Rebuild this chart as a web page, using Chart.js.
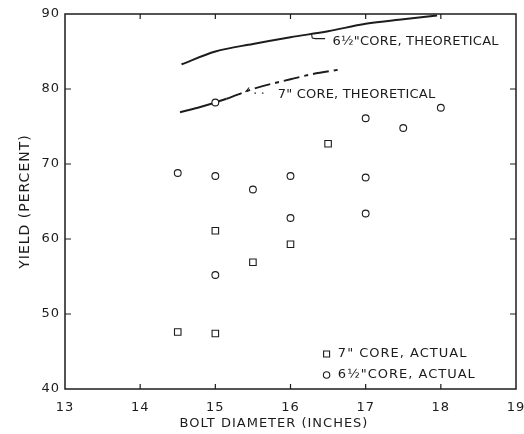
<!DOCTYPE html>
<html><head><meta charset="utf-8">
<script src="https://cdn.jsdelivr.net/npm/chart.js@4/dist/chart.umd.min.js"></script>
<style>html,body{margin:0;padding:0;background:#fff}</style>
</head><body>
<canvas id="c" width="524" height="434"></canvas>
<script>
const xTicks = [13, 14, 15, 16, 17, 18, 19];
const yTicks = [40, 50, 60, 70, 80, 90];
const core7ActualX = [14.5, 15, 15, 15.5, 16, 16.5];
const core7ActualY = [47.6, 47.4, 61.1, 56.9, 59.3, 72.7];
const core65ActualX = [14.5, 15, 15, 15, 15.5, 16, 16, 17, 17, 17, 17.5, 18];
const core65ActualY = [68.8, 78.2, 68.4, 55.2, 66.6, 68.4, 62.8, 76.1, 68.2, 63.4, 74.8, 77.5];
const core65TheoX = [14.55, 15, 15.5, 16, 16.5, 17, 17.5, 17.95];
const core65TheoY = [83.3, 85.0, 86.0, 86.9, 87.7, 88.7, 89.3, 89.8];
const core7TheoX = [14.53, 14.8, 15, 15.15, 15.5, 16, 16.3, 16.66];
const core7TheoY = [76.9, 77.6, 78.2, 78.7, 80.0, 81.3, 82.0, 82.6];
const seriesLabels = ['7" CORE, ACTUAL', '6½"CORE, ACTUAL', '6½"CORE, THEORETICAL', '7" CORE, THEORETICAL'];
const xTitle = 'BOLT DIAMETER (INCHES)';
const yTitle = 'YIELD (PERCENT)';

const pts = (xs, ys) => xs.map((v, i) => ({x: v, y: ys[i]}));
const INK = '#1c1c1c';
const FONT = '"DejaVu Sans", "Liberation Sans", sans-serif';

// annotation anchors (data space) for the curve labels
const labelAnchors = [
  {text: seriesLabels[2], x: 16.56, y: 86.27},
  {text: seriesLabels[3], x: 15.83, y: 79.2}
];

const framePlugin = {
  id: 'frame',
  beforeDraw(chart) {
    chart.ctx.letterSpacing = '1px';
  },
  beforeDatasetsDraw(chart) {
    const {ctx, scales: {x, y}} = chart;
    ctx.letterSpacing = '0px';
    ctx.save();
    ctx.strokeStyle = INK;
    ctx.lineWidth = 1.5;
    const l = x.getPixelForValue(xTicks[0]), r = x.getPixelForValue(xTicks[xTicks.length - 1]);
    const t = y.getPixelForValue(yTicks[yTicks.length - 1]), b = y.getPixelForValue(yTicks[0]);
    ctx.strokeRect(l, t, r - l, b - t);
    ctx.lineWidth = 1.2;
    ctx.beginPath();
    xTicks.slice(1, -1).forEach(v => {
      const p = x.getPixelForValue(v);
      ctx.moveTo(p, b); ctx.lineTo(p, b - 5);
      ctx.moveTo(p, t); ctx.lineTo(p, t + 5);
    });
    yTicks.slice(1, -1).forEach(v => {
      const p = y.getPixelForValue(v);
      ctx.moveTo(l, p); ctx.lineTo(l + 6, p);
      ctx.moveTo(r, p); ctx.lineTo(r - 6, p);
    });
    ctx.stroke();
    ctx.restore();
  },
  afterDatasetsDraw(chart) {
    const {ctx, scales: {x, y}} = chart;
    ctx.save();
    ctx.fillStyle = INK;
    ctx.font = '13px ' + FONT;
    ctx.textBaseline = 'middle';
    ctx.textAlign = 'left';
    ctx.letterSpacing = '0.2px';
    labelAnchors.forEach(l => ctx.fillText(l.text, x.getPixelForValue(l.x), y.getPixelForValue(l.y)));
    // legend for the measured series
    ctx.letterSpacing = '1px';
    const lx = x.getPixelForValue(16.48), tx = x.getPixelForValue(16.63);
    const rows = [{ds: 0, y: 44.67}, {ds: 1, y: 41.87}];
    rows.forEach(r => {
      const ds = chart.data.datasets[r.ds];
      const py = y.getPixelForValue(r.y);
      ctx.strokeStyle = INK; ctx.lineWidth = 1.1; ctx.fillStyle = '#fff';
      ctx.beginPath();
      if (ds.pointStyle === 'rect') { ctx.rect(lx - 3, py - 3, 6, 6); }
      else { ctx.arc(lx, py, 3.2, 0, Math.PI * 2); }
      ctx.fill(); ctx.stroke();
      ctx.fillStyle = INK;
      ctx.fillText(ds.label, tx, py);
    });
    // x axis title
    ctx.letterSpacing = '1px';
    ctx.textAlign = 'center';
    ctx.fillText(xTitle, x.getPixelForValue(15.78), 424);
    ctx.restore();
    ctx.letterSpacing = '0px';
  }
};

new Chart(document.getElementById('c'), {
  type: 'scatter',
  data: {
    datasets: [
      {label: seriesLabels[0], data: pts(core7ActualX, core7ActualY), pointStyle: 'rect', pointRadius: 4.6,
       borderColor: INK, backgroundColor: '#fff', borderWidth: 1.1},
      {label: seriesLabels[1], data: pts(core65ActualX, core65ActualY), pointStyle: 'circle', pointRadius: 3.4,
       borderColor: INK, backgroundColor: '#fff', borderWidth: 1.1},
      {label: seriesLabels[2], data: pts(core65TheoX, core65TheoY), showLine: true, pointRadius: 0,
       borderColor: INK, borderWidth: 1.9, cubicInterpolationMode: 'monotone'},
      {label: seriesLabels[3], data: pts(core7TheoX, core7TheoY), showLine: true, pointRadius: 0,
       borderColor: INK, borderWidth: 1.9, cubicInterpolationMode: 'monotone',
       segment: {borderDash: c => c.p0.parsed.x >= 15.15 ? [16, 5, 4, 5] : undefined}},
      // leader marks
      {label: 'lead1', data: [{x: 16.28, y: 87.3}, {x: 16.29, y: 86.8}, {x: 16.33, y: 86.72}, {x: 16.46, y: 86.72}],
       showLine: true, pointRadius: 0, borderColor: INK, borderWidth: 1.1},
      {label: 'lead2', data: [{x: 15.40, y: 79.6}, {x: 15.45, y: 80.2}],
       showLine: true, pointRadius: 0, borderColor: INK, borderWidth: 1.1},
      {label: 'lead3', data: [{x: 15.52, y: 79.45}, {x: 15.72, y: 79.45}],
       showLine: true, pointRadius: 0, borderColor: INK, borderWidth: 1.3, borderDash: [1.5, 6]}
    ]
  },
  options: {
    responsive: false,
    animation: false,
    layout: {padding: {top: 14, right: 8, left: 0, bottom: 0}},
    plugins: {legend: {display: false}, tooltip: {enabled: false}},
    scales: {
      x: {
        type: 'linear', min: 13, max: 19,
        afterBuildTicks: s => { s.ticks = xTicks.map(v => ({value: v})); },
        afterFit: s => { s.height = 45; s.paddingLeft = 0; s.paddingRight = 0; },
        grid: {display: false, drawTicks: false}, border: {display: false},
        ticks: {color: INK, font: {family: FONT, size: 13}, padding: 11, maxRotation: 0},
        title: {display: false, text: xTitle}
      },
      y: {
        type: 'linear', min: 40, max: 90,
        afterBuildTicks: s => { s.ticks = yTicks.map(v => ({value: v})); },
        afterFit: s => { s.width = 65; s.paddingTop = 0; s.paddingBottom = 0; },
        grid: {display: false, drawTicks: false}, border: {display: false},
        ticks: {color: INK, font: {family: FONT, size: 13}, padding: 5},
        title: {display: true, text: yTitle, color: INK, font: {family: FONT, size: 14}, padding: {top: 17, bottom: 0}}
      }
    }
  },
  plugins: [framePlugin]
});
</script>
</body></html>
